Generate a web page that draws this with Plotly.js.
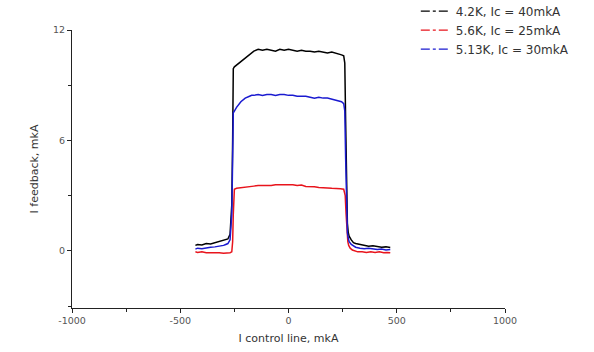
<!DOCTYPE html>
<html><head><meta charset="utf-8">
<script src="https://cdn.plot.ly/plotly-3.0.1.min.js"></script>
<style>body{margin:0;background:#fff}#c{width:594px;height:352px}</style>
</head><body><div id="c"></div>
<script>
const seriesNames = ["4.2K, Ic = 40mkA", "5.6K, Ic = 25mkA", "5.13K, Ic = 30mkA"];
const seriesColors = ["#000000", "#e8141c", "#1a1ad0"];

const xBlack = [-430,-420,-400,-380,-360,-340,-320,-300,-290,-280,-270,-262,-258,-255,-250,-240,-220,-200,-180,-170,-160,-140,-120,-100,-80,-60,-40,-20,0,20,40,60,80,100,120,140,160,180,200,220,235,245,255,260,264,268,272,276,280,290,300,310,330,350,370,390,410,430,450,470];
const yBlack = [0.30,0.35,0.32,0.40,0.38,0.45,0.48,0.55,0.60,0.65,0.9,2.5,6.0,9.9,10.0,10.1,10.3,10.5,10.65,10.75,10.85,10.95,10.9,10.95,10.9,10.85,10.95,10.9,10.95,10.9,10.85,10.9,10.85,10.85,10.8,10.85,10.8,10.75,10.8,10.75,10.7,10.65,10.6,10.2,7.0,3.0,1.5,1.0,0.8,0.6,0.45,0.4,0.35,0.3,0.25,0.28,0.22,0.2,0.22,0.18];

const xRed = [-430,-420,-400,-380,-360,-340,-320,-300,-280,-270,-262,-258,-255,-250,-240,-220,-200,-180,-160,-140,-120,-100,-80,-60,-40,-20,0,20,40,60,80,100,120,140,160,180,200,220,240,255,262,266,270,274,278,285,295,305,320,340,360,380,400,420,440,455,470];
const yRed = [-0.05,-0.08,-0.05,-0.1,-0.1,-0.08,-0.1,-0.12,-0.1,-0.1,-0.05,0.5,2.0,3.35,3.4,3.42,3.45,3.5,3.52,3.55,3.55,3.58,3.55,3.6,3.6,3.62,3.6,3.6,3.55,3.58,3.5,3.5,3.48,3.45,3.45,3.42,3.4,3.4,3.38,3.35,3.0,2.0,1.0,0.5,0.3,0.15,0.05,0.0,-0.05,-0.05,-0.08,-0.05,-0.08,-0.05,-0.1,-0.08,-0.1];

const xBlue = xBlack;
const yBlue = [0.1,0.15,0.12,0.18,0.2,0.22,0.25,0.3,0.35,0.4,0.6,2.0,5.0,7.5,7.6,7.8,8.1,8.3,8.4,8.45,8.45,8.5,8.45,8.5,8.5,8.45,8.5,8.5,8.45,8.45,8.4,8.4,8.4,8.35,8.3,8.35,8.3,8.3,8.25,8.2,8.15,8.1,8.0,7.6,5.0,2.0,1.0,0.7,0.5,0.35,0.25,0.2,0.15,0.12,0.15,0.1,0.08,0.1,0.05,0.08];

const xTicks = [-1000,-500,0,500,1000];
const yTicks = [0,6,12];

const xs = [xBlack, xRed, xBlue];
const ys = [yBlack, yRed, yBlue];
const plotTraces = xs.map((x, i) => ({
  x: x, y: ys[i], type: 'scatter', mode: 'lines', name: seriesNames[i], showlegend: false,
  line: {color: seriesColors[i], width: 1.5}
}));
// legend entries shown with dash-dot samples, as in the original
const legendTraces = xs.map((x, i) => ({
  x: [null], y: [null], type: 'scatter', mode: 'lines', name: seriesNames[i],
  line: {color: seriesColors[i], width: 1.3, dash: 'dashdot'}
}));

const fam = 'DejaVu Sans, Verdana, sans-serif';
const layout = {
  width: 594, height: 352,
  margin: {l: 72, r: 89, t: 30, b: 44, autoexpand: false},
  paper_bgcolor: '#fff', plot_bgcolor: '#fff',
  font: {family: fam, size: 10, color: '#444'},
  showlegend: true,
  legend: {x: 0.794, xanchor: 'left', y: 1.12, yanchor: 'top', bgcolor: 'rgba(0,0,0,0)',
           font: {family: fam, size: 12, color: '#333'},
           tracegroupgap: 0, itemwidth: 30},
  xaxis: {range: [-1000, 1000], tickvals: xTicks, ticktext: xTicks.map(String),
          showgrid: false, zeroline: false, showline: true, linecolor: '#222', linewidth: 1,
          ticks: 'outside', ticklen: 4, tickcolor: '#222',
          minor: {dtick: 250, ticks: 'outside', ticklen: 3, tickcolor: '#222', showgrid: false},
          title: {text: 'I control line, mkA', font: {family: fam, size: 11, color: '#333'}, standoff: 8},
          tickfont: {family: fam, size: 9.5, color: '#555'}},
  yaxis: {range: [-3.1, 12], tickvals: yTicks, ticktext: yTicks.map(String),
          showgrid: false, zeroline: false, showline: true, linecolor: '#222', linewidth: 1,
          ticks: 'outside', ticklen: 4, tickcolor: '#222',
          minor: {dtick: 3, ticks: 'outside', ticklen: 3, tickcolor: '#222', showgrid: false},
          title: {text: 'I feedback, mkA', font: {family: fam, size: 11, color: '#333'}, standoff: 12},
          tickfont: {family: fam, size: 9.5, color: '#555'}}
};
Plotly.newPlot('c', plotTraces.concat(legendTraces), layout, {staticPlot: true, displayModeBar: false});
</script></body></html>
